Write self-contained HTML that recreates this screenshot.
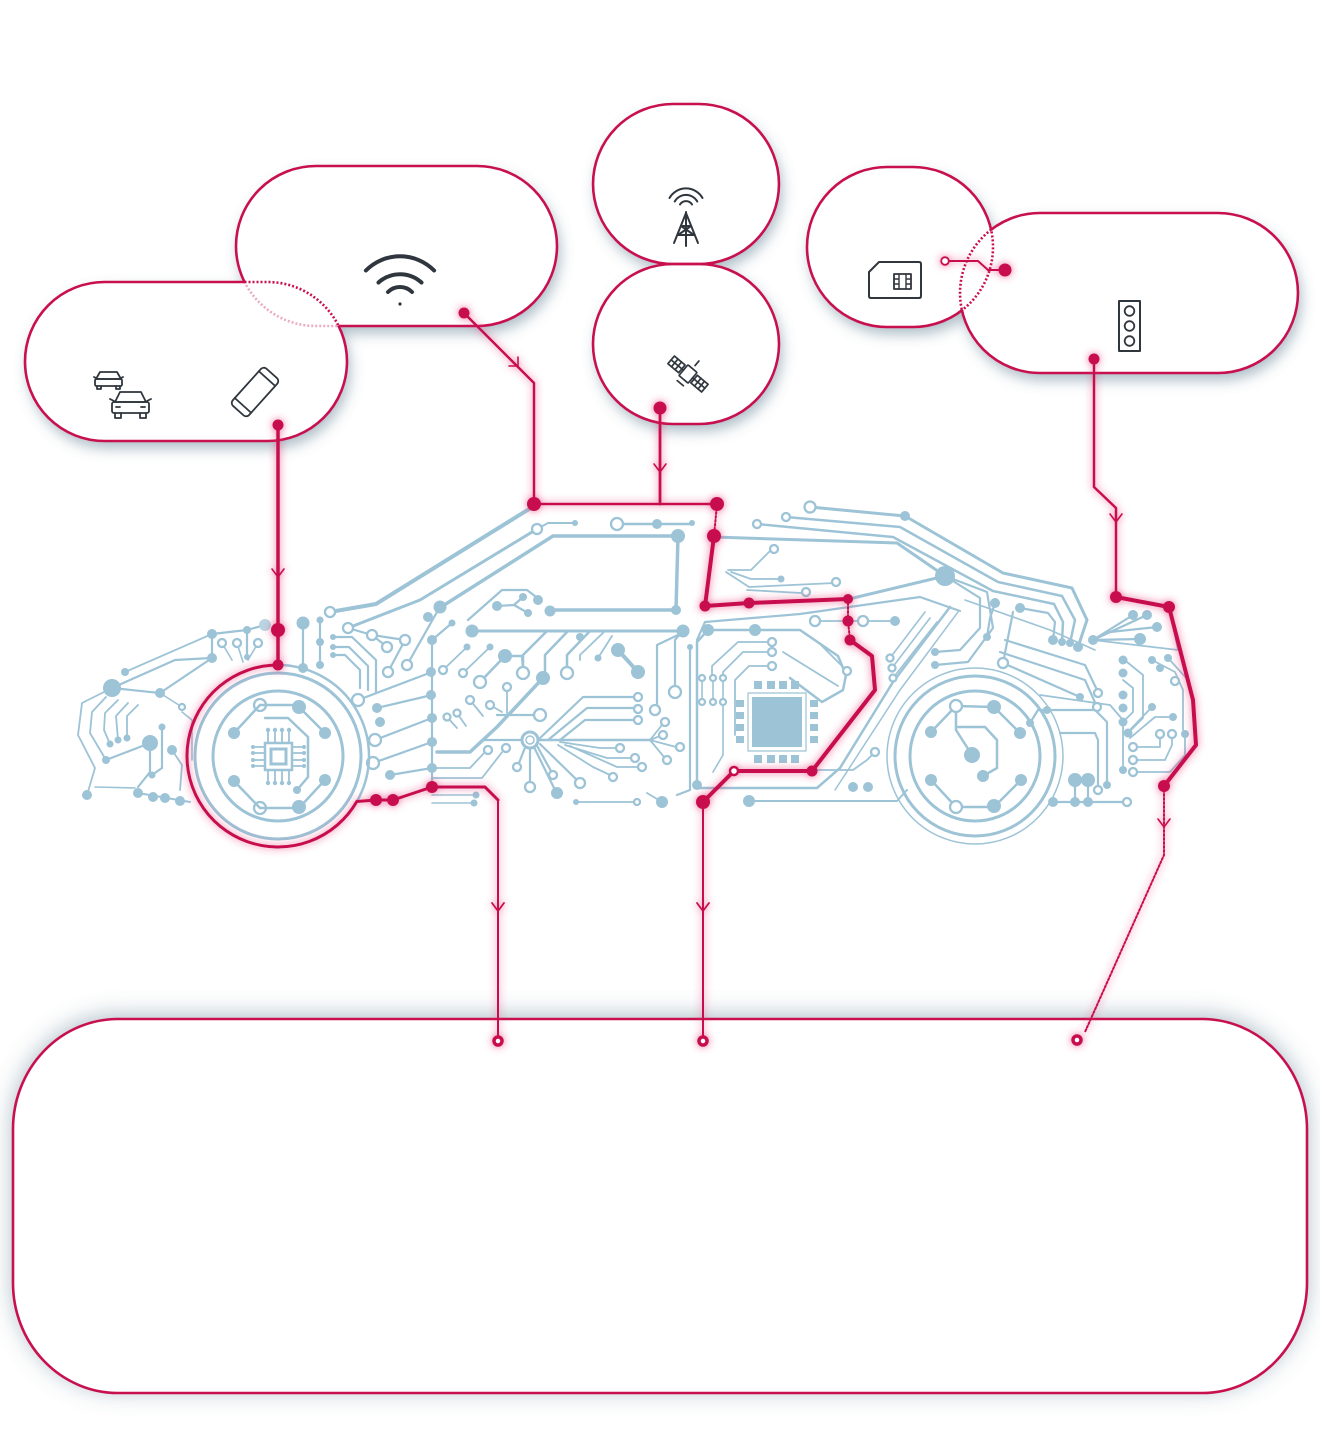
<!DOCTYPE html>
<html><head><meta charset="utf-8">
<style>
html,body{margin:0;padding:0;background:#fff;}
svg{display:block}
.d{fill:#9dc3d6;stroke:none}
.r{fill:#fff;stroke:#9dc3d6;stroke-width:2.3}
.pd{fill:#c8104f;stroke:none}
</style></head>
<body>
<svg width="1320" height="1430" viewBox="0 0 1320 1430" xmlns="http://www.w3.org/2000/svg">
<defs>
<filter id="sh" filterUnits="userSpaceOnUse" x="0" y="0" width="1320" height="1430">
 <feGaussianBlur in="SourceAlpha" stdDeviation="7"/>
 <feOffset dx="3" dy="7" result="o"/>
 <feFlood flood-color="#56778c" flood-opacity="0.5"/>
 <feComposite in2="o" operator="in"/>
 <feMerge><feMergeNode/><feMergeNode in="SourceGraphic"/></feMerge>
</filter>
<filter id="sh2" filterUnits="userSpaceOnUse" x="0" y="0" width="1320" height="1430">
 <feGaussianBlur in="SourceAlpha" stdDeviation="12"/>
 <feOffset dx="0" dy="-3" result="o"/>
 <feFlood flood-color="#56778c" flood-opacity="0.5"/>
 <feComposite in2="o" operator="in"/>
 <feMerge><feMergeNode/><feMergeNode in="SourceGraphic"/></feMerge>
</filter>
<filter id="glow" filterUnits="userSpaceOnUse" x="0" y="0" width="1320" height="1430">
 <feGaussianBlur in="SourceAlpha" stdDeviation="4" result="b"/>
 <feFlood flood-color="#e8336f" flood-opacity="0.75"/>
 <feComposite in2="b" operator="in" result="g"/>
 <feMerge><feMergeNode in="g"/><feMergeNode in="SourceGraphic"/></feMerge>
</filter>
<clipPath id="outL"><path clip-rule="evenodd" d="M0,0 H1320 V1430 H0 Z M104.5,282 H267.5 A79.5,79.5 0 0 1 267.5,441 H104.5 A79.5,79.5 0 0 1 104.5,282 Z"/></clipPath>
<clipPath id="inL"><path d="M104.5,282 H267.5 A79.5,79.5 0 0 1 267.5,441 H104.5 A79.5,79.5 0 0 1 104.5,282 Z"/></clipPath>
<clipPath id="outW"><path clip-rule="evenodd" d="M0,0 H1320 V1430 H0 Z M316,166 H477 A80,80 0 0 1 477,326 H316 A80,80 0 0 1 316,166 Z"/></clipPath>
<clipPath id="inW"><path d="M316,166 H477 A80,80 0 0 1 477,326 H316 A80,80 0 0 1 316,166 Z"/></clipPath>
<clipPath id="outS"><path clip-rule="evenodd" d="M0,0 H1320 V1430 H0 Z M887,167 H913 A80,80 0 0 1 913,327 H887 A80,80 0 0 1 887,167 Z"/></clipPath>
<clipPath id="inS"><path d="M887,167 H913 A80,80 0 0 1 913,327 H887 A80,80 0 0 1 887,167 Z"/></clipPath>
<clipPath id="outT"><path clip-rule="evenodd" d="M0,0 H1320 V1430 H0 Z M1040,213 H1218 A80,80 0 0 1 1218,373 H1040 A80,80 0 0 1 1040,213 Z"/></clipPath>
<clipPath id="inT"><path d="M1040,213 H1218 A80,80 0 0 1 1218,373 H1040 A80,80 0 0 1 1040,213 Z"/></clipPath>
</defs>

<!-- bottom box -->
<rect x="13" y="1019" width="1294" height="374" rx="105" ry="110" fill="#fff" filter="url(#sh2)"/>
<rect x="13" y="1019" width="1294" height="374" rx="105" ry="110" fill="none" stroke="#c8104f" stroke-width="2.6"/>

<!-- pill fills with shadows -->
<g filter="url(#sh)" fill="#fff">
 <path d="M316,166 H477 A80,80 0 0 1 477,326 H316 A80,80 0 0 1 316,166 Z"/>
 <path d="M104.5,282 H267.5 A79.5,79.5 0 0 1 267.5,441 H104.5 A79.5,79.5 0 0 1 104.5,282 Z"/>
</g>
<g filter="url(#sh)" fill="#fff">
 <path d="M673,104 H699 A80,80 0 0 1 699,264 H673 A80,80 0 0 1 673,104 Z"/>
 <path d="M673,264 H699 A80,80 0 0 1 699,424 H673 A80,80 0 0 1 673,264 Z"/>
</g>
<g filter="url(#sh)" fill="#fff">
 <path d="M887,167 H913 A80,80 0 0 1 913,327 H887 A80,80 0 0 1 887,167 Z"/>
 <path d="M1040,213 H1218 A80,80 0 0 1 1218,373 H1040 A80,80 0 0 1 1040,213 Z"/>
</g>

<!-- pill strokes -->
<g fill="none" stroke="#c8104f" stroke-width="2.6">
 <path clip-path="url(#outL)" d="M316,166 H477 A80,80 0 0 1 477,326 H316 A80,80 0 0 1 316,166 Z"/>
 <path clip-path="url(#outW)" d="M104.5,282 H267.5 A79.5,79.5 0 0 1 267.5,441 H104.5 A79.5,79.5 0 0 1 104.5,282 Z"/>
 <path clip-path="url(#inW)" stroke-dasharray="2 2" d="M104.5,282 H267.5 A79.5,79.5 0 0 1 267.5,441 H104.5 A79.5,79.5 0 0 1 104.5,282 Z"/>
 <path clip-path="url(#inL)" stroke-dasharray="2 2" opacity="0.35" d="M316,166 H477 A80,80 0 0 1 477,326 H316 A80,80 0 0 1 316,166 Z"/>
 <path d="M673,104 H699 A80,80 0 0 1 699,264 H673 A80,80 0 0 1 673,104 Z"/>
 <path d="M673,264 H699 A80,80 0 0 1 699,424 H673 A80,80 0 0 1 673,264 Z"/>
 <path clip-path="url(#outT)" d="M887,167 H913 A80,80 0 0 1 913,327 H887 A80,80 0 0 1 887,167 Z"/>
 <path clip-path="url(#outS)" d="M1040,213 H1218 A80,80 0 0 1 1218,373 H1040 A80,80 0 0 1 1040,213 Z"/>
 <path clip-path="url(#inT)" stroke-dasharray="2 2" d="M887,167 H913 A80,80 0 0 1 913,327 H887 A80,80 0 0 1 887,167 Z"/>
 <path clip-path="url(#inS)" stroke-dasharray="2 2" d="M1040,213 H1218 A80,80 0 0 1 1218,373 H1040 A80,80 0 0 1 1040,213 Z"/>
</g>

<!-- icons -->
<g fill="none" stroke="#2f363d" stroke-width="1.8" stroke-linecap="round" stroke-linejoin="round">
 <!-- small car -->
 <path d="M100,372 H117 L121,379 H96 Z"/>
 <rect x="95" y="379" width="27" height="7" rx="1.5"/>
 <path d="M97,386 V389 H101 V386 M116,386 V389 H120 V386"/>
 <path d="M94,377 L96,378 M123,377 L121,378"/>
 <!-- big car -->
 <path d="M120,392 H141 L146,402 H115 Z"/>
 <rect x="112" y="402" width="37" height="11" rx="2"/>
 <path d="M115,413 V418 H121 V413 M140,413 V418 H146 V413"/>
 <path d="M110,399 L114,401 M151,399 L147,401"/>
 <path d="M116,407 H120 M141,407 H145"/>
 <!-- phone -->
 <g transform="rotate(42 255 392)">
  <rect x="244" y="367" width="22" height="50" rx="4"/>
  <path d="M244,374 H266 M244,410 H266"/>
 </g>
 <!-- wifi -->
 <path stroke-width="4" d="M365.9,270.5 A48,48 0 0 1 434.1,270.5"/>
 <path stroke-width="4" d="M378.5,282.5 A32,32 0 0 1 421.5,282.5"/>
 <path stroke-width="4" d="M388,292 A17,17 0 0 1 412,292"/>
 <circle cx="400" cy="304" r="1.6" fill="#2f363d" stroke="none"/>
 <!-- tower -->
 <path stroke-width="2" d="M669.5,198 A19,19 0 0 1 702.5,198 M674.7,201.5 A13,13 0 0 1 697.3,201.5 M680,204.5 A7,7 0 0 1 692,204.5"/>
 <path stroke-width="2" d="M686,212 V246 M686,213 L674,243 M686,213 L698,243 M681,226 H691 M678,235 L694,235 M681,226 L694,235 M691,226 L678,235"/>
 <!-- satellite -->
 <g transform="rotate(40 688 374)" stroke-width="1.7">
  <rect x="682" y="367" width="12" height="14" rx="1"/>
  <rect x="666" y="369" width="14" height="10"/>
  <path d="M670.7,369 V379 M675.3,369 V379 M666,374 H680"/>
  <rect x="696" y="369" width="14" height="10"/>
  <path d="M700.7,369 V379 M705.3,369 V379 M696,374 H710"/>
  <path d="M680,374 H682 M694,374 H696"/>
  <path d="M684,386 H692 M688,357 V363"/>
 </g>
 <!-- sim -->
 <path stroke-width="2" d="M879,262 H919 Q921,262 921,264 V296 Q921,298 919,298 H871 Q869,298 869,296 V272 Z"/>
 <rect x="894" y="274" width="17" height="15" stroke-width="1.8"/>
 <path stroke-width="1.4" d="M899,274 V289 M906,274 V289 M894,279 H899 M894,284 H899 M906,279 H911 M906,284 H911"/>
 <!-- traffic light -->
 <rect x="1119" y="301" width="21" height="50" stroke-width="2"/>
 <circle cx="1129.5" cy="311" r="4.8"/>
 <circle cx="1129.5" cy="326" r="4.8"/>
 <circle cx="1129.5" cy="341" r="4.8"/>
</g>

<!-- blue circuits -->
<g fill="none" stroke="#9dc3d6" stroke-linecap="round" stroke-linejoin="round" stroke-width="2.2">
 <!-- roof/outline -->
 <path stroke-width="4" d="M330,612 L376,604 L534,506"/>
 <path stroke-width="3" d="M348,628 L420,600 L537,529"/>
 <path stroke-width="2" d="M537,529 L548,523 H575"/>
 <path stroke-width="3.5" d="M441,607 L553,536 H678 L676,610 H550"/>
 <path stroke-width="2.5" d="M617,524 H692"/>
 <path stroke-width="3" d="M472,631 H683"/>
 <path stroke-width="3" d="M810,507 L905,516 L1003,573 L1072,588 L1087,620 L1078,647"/>
 <path stroke-width="2.5" d="M786,517 L900,527 L998,582 L1062,596 L1075,620 L1070,643"/>
 <path stroke-width="2.5" d="M757,524 L893,537 L993,591 L1054,604 L1063,622 L1062,642"/>
 <path stroke-width="2.2" d="M1020,608 L1048,613 L1055,622 L1053,640"/>
 <path stroke-width="3" d="M714,537 L897,543 L945,576"/>
 <path stroke-width="3" d="M849,599 L945,576"/>
 <path d="M945,576 L980,598 L980,628 L960,650 L935,652"/>
 <path d="M945,576 L987,592 L993,628 L968,662 L935,665"/>
 <path d="M995,603 L990,618 L987,637"/>
 <path d="M1013,612 L1003,663"/>
 <path d="M1003,663 L1080,697"/>
 <path d="M1005,640 L1085,665 L1097,690 L1098,693"/>
 <path d="M1000,652 L1085,680 L1097,707"/>
 <path stroke-width="1.6" d="M965,600 L1050,630 L1095,650"/>
 <!-- front -->
 <path stroke-width="1.8" d="M112,688 L82,703 L78,735 L95,768 L87,795"/>
 <path stroke-width="1.8" d="M106,697 L92,712 L90,733 L106,760"/>
 <path stroke-width="1.8" d="M118,700 L105,713 L104,730 L110,744"/>
 <path stroke-width="1.8" d="M128,703 L116,716 L118,740"/>
 <path stroke-width="1.8" d="M138,705 L127,716 L127,738"/>
 <path d="M112,688 L160,693"/>
 <path d="M112,688 L175,660 L212,658"/>
 <path stroke-width="1.8" d="M125,672 L212,634"/>
 <path d="M212,634 V658"/>
 <path d="M212,634 L247,630 L265,625"/>
 <path d="M247,630 V657"/>
 <path d="M160,693 L212,658"/>
 <path stroke-width="1.6" d="M160,693 L182,707"/>
 <path stroke-width="1.6" d="M222,643 L232,660 M237,643 L243,662 M258,643 L248,660"/>
 <path d="M150,743 L106,760"/>
 <path d="M150,743 L150,772 L138,787"/>
 <path d="M162,727 V768 L152,775"/>
 <path stroke-width="1.8" d="M172,750 L182,765 L180,790"/>
 <path stroke-width="1.6" d="M95,787 L135,788"/>
 <path stroke-width="2" d="M138,793 L190,802"/>
 <path stroke-width="1.6" d="M182,712 L192,720 L192,760"/>
 <!-- between wheel and door -->
 <path d="M303,623 V668"/>
 <path d="M320,620 V665"/>
 <path d="M333,637 H352 L376,660 V692"/>
 <path d="M333,647 H349 L368,666 V690"/>
 <path d="M333,655 H345 L360,670 V688"/>
 <path d="M348,628 L372,635 L405,640"/>
 <path d="M372,635 L387,647"/>
 <path d="M388,672 L405,640"/>
 <path d="M407,665 L437,612"/>
 <path d="M358,700 L432,672"/>
 <path d="M377,708 L432,695"/>
 <path d="M375,740 L432,718"/>
 <path d="M373,763 L432,742"/>
 <path d="M390,775 L432,768"/>
 <path d="M432,640 V780"/>
 <path d="M432,640 L452,623"/>
 <path stroke-width="1.6" d="M432,795 H476 M432,803 H474"/>
 <!-- middle -->
 <path d="M468,620 L502,590 H527 L540,600"/>
 <path d="M497,606 L514,605 L523,597 M514,605 L528,613"/>
 <path stroke-width="1.8" d="M443,670 L467,647 M463,673 L490,647"/>
 <path stroke-width="2.5" d="M480,682 L505,656 H522 L523,667"/>
 <path stroke-width="2.5" d="M547,631 L523,655 V667"/>
 <path stroke-width="2.5" d="M568,631 L545,655 V678"/>
 <path stroke-width="2.5" d="M590,631 L567,655 V667"/>
 <path stroke-width="1.8" d="M605,631 L580,655 V660"/>
 <path stroke-width="4" d="M618,650 L638,672"/>
 <path stroke-width="1.8" d="M612,636 L598,658"/>
 <path d="M680,634 L675,640 V686"/>
 <path d="M680,634 L657,645 V704"/>
 <path d="M690,647 V790 L677,795"/>
 <path stroke-width="3.5" d="M437,752 H470 L497,727 L543,678"/>
 <path d="M483,740 H522"/>
 <path d="M497,715 H534"/>
 <path stroke-width="1.8" d="M507,691 V713 M490,705 L502,712 M470,700 L483,716 M447,717 L457,728 M457,713 L466,726"/>
 <path stroke-width="1.8" d="M432,768 H470 L485,752 M432,778 H482 L503,751"/>
 <path d="M538,740 L583,697 H634"/>
 <path d="M548,740 L587,708 H634"/>
 <path d="M560,740 L585,720 H634"/>
 <path stroke-width="2.5" d="M538,740 H650"/>
 <path stroke-width="1.8" d="M650,740 L662,725 M650,740 L660,736 M650,740 L676,747 M650,740 L664,757"/>
 <path d="M530,748 V782 M533,745 L555,790 M536,744 L551,771 M540,744 L577,780 M526,745 L519,763"/>
 <path stroke-width="1.8" d="M560,742 L600,748 H616 M565,745 L607,758 H631 M570,746 L617,767 H638 M558,745 L593,767 L610,775"/>
 <path stroke-width="1.8" d="M576,802 H634 M647,793 L662,802"/>
 <!-- right of door -->
 <path d="M697,640 L705,622 L800,614 L920,597 L960,611"/>
 <path stroke-width="2.5" d="M708,630 L697,642 V785"/>
 <path stroke-width="2.5" d="M708,630 H800 L838,656 L846,675 L843,690 L822,702 L790,678"/>
 <path stroke-width="1.8" d="M783,652 L838,686 M820,644 L847,671"/>
 <path stroke-width="1.8" d="M815,621 H895"/>
 <path stroke-width="1.8" d="M772,642 H738 L712,666 V678 M772,652 H743 L723,672 V678 M772,666 H749 L735,680 V735"/>
 <path stroke-width="1.6" d="M702,678 V702 M713,678 V702 M723,678 V702 M723,702 V755 L713,772"/>
 <path stroke-width="2.5" d="M697,788 H817 L840,768 L893,682 L950,607"/>
 <path stroke-width="1.5" d="M835,790 L900,690 L958,612"/>
 <path stroke-width="1.8" d="M818,770 H853 L867,760 L875,752"/>
 <path stroke-width="2" d="M749,801 H897 L907,790"/>
 <path stroke-width="1.6" d="M890,658 L925,612 M892,668 L930,618 M893,678 L937,622"/>
 <path stroke-width="1.8" d="M772,549 L751,570 H728 M781,579 H751 L731,572 M835,583 L749,587 L726,572 M801,593 L747,590"/>
 <!-- chip right -->
 <rect x="752" y="697" width="50" height="50" fill="#9dc3d6" stroke="none"/>
 <rect x="748" y="693" width="58" height="58" stroke-width="1.2"/>
 <!-- right wheel -->
 <circle cx="975" cy="756" r="65" stroke-width="3"/>
 <circle cx="975" cy="756" r="80" stroke-width="3"/>
 <circle cx="975" cy="756" r="88" stroke-width="1.5"/>
 <path stroke-width="2.5" d="M956,706 L994,707 M956,706 L931,732 M994,707 L1020,733 M956,706 V730 L972,755 M956,727 H985 L997,740 V768 L983,776 M931,780 L956,807 H994 L1021,780"/>
 <!-- rear -->
 <path d="M1093,640 L1133,615 M1093,640 L1147,615 M1093,640 L1110,632 L1157,627 M1093,640 L1140,639"/>
 <path stroke-width="1.8" d="M1093,640 L1178,650 L1170,612"/>
 <path stroke-width="1.8" d="M1123,680 L1133,688 V712 L1123,722 M1127,662 L1143,675 V718 L1128,733"/>
 <path stroke-width="1.8" d="M1152,660 L1175,672 L1183,690 V730 M1168,658 L1188,680"/>
 <path stroke-width="1.8" d="M1127,733 L1152,707 M1130,738 L1155,717 H1173"/>
 <path stroke-width="1.8" d="M1133,747 H1160 V734 M1133,760 H1165 L1172,745 V734 M1133,772 H1170 L1185,755 V734"/>
 <path d="M1030,723 L1038,710 H1095 L1107,722 V785"/>
 <path d="M1060,733 H1095 L1098,740 V790"/>
 <path stroke-width="1.8" d="M1040,695 L1110,705 L1123,720 V770"/>
 <path d="M1053,802 H1123 M1075,780 V802 M1088,780 V802"/>
</g>
<g>
 <!-- blue dots -->
 <g class="d">
  <circle cx="112" cy="688" r="9"/><circle cx="125" cy="672" r="4"/><circle cx="212" cy="634" r="5"/><circle cx="247" cy="630" r="4"/>
  <circle cx="212" cy="658" r="5"/><circle cx="160" cy="693" r="5"/><circle cx="150" cy="743" r="8"/><circle cx="110" cy="744" r="3.5"/>
  <circle cx="118" cy="740" r="3.5"/><circle cx="127" cy="738" r="3.5"/><circle cx="162" cy="727" r="3.5"/><circle cx="172" cy="750" r="5"/>
  <circle cx="87" cy="795" r="5"/><circle cx="138" cy="793" r="5"/><circle cx="153" cy="797" r="5"/><circle cx="165" cy="798" r="5"/>
  <circle cx="180" cy="801" r="5"/><circle cx="152" cy="775" r="3.5"/><circle cx="106" cy="760" r="4"/><circle cx="247" cy="657" r="3"/>
  <circle cx="303" cy="623" r="6.5"/><circle cx="303" cy="668" r="5"/><circle cx="320" cy="620" r="3.5"/><circle cx="320" cy="642" r="4"/>
  <circle cx="320" cy="665" r="4"/><circle cx="333" cy="637" r="3"/><circle cx="333" cy="647" r="3"/><circle cx="333" cy="655" r="3"/>
  <circle cx="377" cy="708" r="5"/><circle cx="380" cy="722" r="5"/><circle cx="390" cy="775" r="5"/>
  <circle cx="432" cy="640" r="5"/><circle cx="431" cy="672" r="5"/><circle cx="431" cy="695" r="5"/><circle cx="432" cy="718" r="5"/>
  <circle cx="432" cy="742" r="5"/><circle cx="432" cy="768" r="5"/><circle cx="428" cy="617" r="5"/><circle cx="440" cy="607" r="6.5"/>
  <circle cx="452" cy="623" r="3.5"/><circle cx="476" cy="795" r="3.5"/><circle cx="474" cy="803" r="3.5"/>
  <circle cx="472" cy="631" r="6.5"/><circle cx="683" cy="631" r="6.5"/><circle cx="678" cy="536" r="7"/><circle cx="676" cy="610" r="5"/>
  <circle cx="550" cy="611" r="5.5"/><circle cx="657" cy="524" r="5"/><circle cx="692" cy="523" r="3"/><circle cx="575" cy="523" r="3"/>
  <circle cx="497" cy="606" r="5"/><circle cx="523" cy="597" r="4"/><circle cx="538" cy="600" r="5"/><circle cx="528" cy="613" r="4"/>
  <circle cx="467" cy="647" r="3.5"/><circle cx="490" cy="647" r="3.5"/><circle cx="505" cy="656" r="7"/><circle cx="543" cy="678" r="7"/>
  <circle cx="618" cy="650" r="7"/><circle cx="638" cy="672" r="7"/><circle cx="580" cy="637" r="4"/><circle cx="557" cy="793" r="6"/>
  <circle cx="576" cy="802" r="3"/><circle cx="662" cy="802" r="6"/><circle cx="690" cy="647" r="3"/><circle cx="598" cy="658" r="3.5"/>
  <circle cx="708" cy="630" r="6"/><circle cx="755" cy="630" r="6"/><circle cx="895" cy="621" r="5"/><circle cx="945" cy="576" r="10"/>
  <circle cx="697" cy="785" r="5"/><circle cx="749" cy="801" r="6"/><circle cx="853" cy="787" r="5"/><circle cx="868" cy="787" r="5"/>
  <circle cx="905" cy="516" r="5"/><circle cx="995" cy="603" r="5"/><circle cx="1020" cy="608" r="5"/><circle cx="781" cy="579" r="3.5"/>
  <circle cx="1053" cy="640" r="5"/><circle cx="1062" cy="642" r="4"/><circle cx="1070" cy="643" r="4"/><circle cx="1078" cy="647" r="5"/>
  <circle cx="1093" cy="640" r="5"/><circle cx="1133" cy="615" r="5"/><circle cx="1147" cy="615" r="5"/><circle cx="1157" cy="627" r="5"/>
  <circle cx="1140" cy="639" r="6"/><circle cx="1123" cy="660" r="4.5"/><circle cx="1123" cy="673" r="4.5"/><circle cx="1123" cy="695" r="4.5"/>
  <circle cx="1123" cy="708" r="4.5"/><circle cx="1123" cy="722" r="4.5"/><circle cx="1128" cy="733" r="4.5"/><circle cx="1152" cy="660" r="4"/>
  <circle cx="1168" cy="658" r="4"/><circle cx="1160" cy="668" r="4"/><circle cx="1152" cy="707" r="4"/><circle cx="1173" cy="717" r="4"/>
  <circle cx="1185" cy="734" r="4"/><circle cx="1107" cy="785" r="4"/><circle cx="1075" cy="780" r="7"/><circle cx="1088" cy="780" r="7"/>
  <circle cx="1053" cy="802" r="5"/><circle cx="1075" cy="802" r="5"/><circle cx="1088" cy="802" r="5"/><circle cx="1080" cy="697" r="4"/>
  <circle cx="1047" cy="710" r="4"/><circle cx="1123" cy="770" r="4"/><circle cx="987" cy="637" r="4"/><circle cx="935" cy="652" r="4"/>
  <circle cx="935" cy="665" r="4"/><circle cx="1030" cy="723" r="4"/>
  <circle cx="994" cy="707" r="7"/><circle cx="931" cy="732" r="6"/><circle cx="1020" cy="733" r="6"/><circle cx="972" cy="755" r="8"/>
  <circle cx="983" cy="776" r="6"/><circle cx="931" cy="780" r="6"/><circle cx="1021" cy="780" r="6"/><circle cx="994" cy="806" r="7"/>
  <circle cx="299" cy="707" r="7"/><circle cx="234" cy="733" r="6"/><circle cx="325" cy="733" r="6"/><circle cx="234" cy="781" r="6"/>
  <circle cx="325" cy="780" r="6"/><circle cx="299" cy="807" r="7"/><circle cx="297" cy="790" r="4"/>
  <!-- chip pins right -->
  <rect x="754" y="681" width="8" height="8"/><rect x="767" y="681" width="8" height="8"/><rect x="779" y="681" width="8" height="8"/><rect x="791" y="681" width="8" height="8"/>
  <rect x="754" y="755" width="8" height="8"/><rect x="767" y="755" width="8" height="8"/><rect x="779" y="755" width="8" height="8"/><rect x="791" y="755" width="8" height="8"/>
  <rect x="736" y="700" width="8" height="7"/><rect x="736" y="712" width="8" height="7"/><rect x="736" y="724" width="8" height="7"/><rect x="736" y="736" width="8" height="7"/>
  <rect x="810" y="700" width="8" height="7"/><rect x="810" y="712" width="8" height="7"/><rect x="810" y="724" width="8" height="7"/><rect x="810" y="736" width="8" height="7"/>
 </g>
 <circle cx="265" cy="625" r="6" fill="#b9d5e3"/>
 <!-- blue rings -->
 <g class="r">
  <circle cx="330" cy="612" r="5"/><circle cx="348" cy="628" r="5"/><circle cx="537" cy="529" r="5"/><circle cx="617" cy="524" r="6"/>
  <circle cx="810" cy="507" r="5.5"/><circle cx="786" cy="517" r="4"/><circle cx="757" cy="524" r="4"/><circle cx="372" cy="635" r="5"/>
  <circle cx="387" cy="647" r="5"/><circle cx="405" cy="640" r="5"/><circle cx="388" cy="672" r="5"/><circle cx="407" cy="665" r="5"/>
  <circle cx="358" cy="700" r="6"/><circle cx="375" cy="740" r="6"/><circle cx="373" cy="763" r="6"/><circle cx="222" cy="643" r="4"/>
  <circle cx="237" cy="643" r="4"/><circle cx="258" cy="643" r="4"/><circle cx="182" cy="707" r="3"/><circle cx="443" cy="670" r="4"/>
  <circle cx="463" cy="673" r="4"/><circle cx="480" cy="682" r="6"/><circle cx="523" cy="673" r="6"/><circle cx="567" cy="673" r="6"/>
  <circle cx="540" cy="715" r="6"/><circle cx="507" cy="687" r="4"/><circle cx="490" cy="705" r="4"/><circle cx="470" cy="700" r="4"/>
  <circle cx="447" cy="717" r="3.5"/><circle cx="457" cy="713" r="3.5"/><circle cx="488" cy="750" r="4"/><circle cx="506" cy="748" r="4"/>
  <circle cx="638" cy="697" r="4"/><circle cx="638" cy="709" r="4"/><circle cx="638" cy="720" r="4"/><circle cx="665" cy="722" r="4"/>
  <circle cx="663" cy="735" r="4"/><circle cx="680" cy="747" r="4"/><circle cx="667" cy="760" r="4"/><circle cx="675" cy="692" r="6"/>
  <circle cx="655" cy="710" r="5"/><circle cx="530" cy="787" r="5"/><circle cx="553" cy="775" r="4"/><circle cx="580" cy="783" r="5"/>
  <circle cx="517" cy="767" r="4"/><circle cx="620" cy="748" r="4"/><circle cx="635" cy="758" r="4"/><circle cx="642" cy="767" r="4"/>
  <circle cx="613" cy="777" r="4"/><circle cx="637" cy="802" r="3"/><circle cx="815" cy="621" r="5"/><circle cx="863" cy="621" r="5"/>
  <circle cx="772" cy="642" r="4"/><circle cx="772" cy="652" r="4"/><circle cx="772" cy="666" r="4"/><circle cx="702" cy="678" r="3"/>
  <circle cx="713" cy="678" r="3"/><circle cx="723" cy="678" r="3"/><circle cx="702" cy="702" r="3"/><circle cx="713" cy="702" r="3"/>
  <circle cx="723" cy="702" r="3"/><circle cx="847" cy="671" r="4"/><circle cx="890" cy="658" r="3.5"/><circle cx="892" cy="668" r="3.5"/>
  <circle cx="893" cy="678" r="3.5"/><circle cx="875" cy="752" r="4"/><circle cx="1003" cy="663" r="5"/><circle cx="1098" cy="790" r="4"/>
  <circle cx="1127" cy="802" r="4"/><circle cx="1133" cy="747" r="4"/><circle cx="1133" cy="760" r="4"/><circle cx="1133" cy="772" r="4"/>
  <circle cx="1160" cy="734" r="4"/><circle cx="1172" cy="734" r="4"/><circle cx="1097" cy="707" r="4"/><circle cx="1098" cy="693" r="4"/>
  <circle cx="774" cy="549" r="4"/><circle cx="836" cy="582" r="4"/><circle cx="806" cy="592" r="4"/><circle cx="1175" cy="681" r="4"/>
  <circle cx="956" cy="706" r="6"/><circle cx="956" cy="807" r="6"/><circle cx="260" cy="705" r="6"/><circle cx="260" cy="808" r="6"/>
  <circle cx="530" cy="740" r="8" stroke-width="3"/>
 </g>
 <circle cx="530" cy="740" r="4" fill="none" stroke="#9dc3d6" stroke-width="1.5"/>
 <!-- left wheel -->
 <g fill="none" stroke="#9dc3d6" stroke-linecap="round">
  <path stroke-width="2.5" d="M278,665 A91,91 0 0 1 356.8,801.5"/>
  <circle cx="278" cy="756" r="83" stroke-width="3"/>
  <circle cx="278" cy="756" r="65" stroke-width="3"/>
  <path stroke-width="2.5" d="M260,705 H299 M260,705 L234,733 M299,707 L325,733 M234,781 L260,808 H299 L325,780 M265,718 H288 L308,737 V777 L297,790"/>
  <rect x="265" y="743" width="27" height="27" stroke-width="2.5"/>
  <rect x="271" y="749" width="15" height="15" stroke-width="3"/>
  <path stroke-width="1.8" d="M268,730 V743 M275,730 V743 M282,730 V743 M289,730 V743 M268,770 V783 M275,770 V783 M282,770 V783 M289,770 V783 M253,747 H265 M253,753 H265 M253,760 H265 M253,766 H265 M292,747 H304 M292,753 H304 M292,760 H304 M292,766 H304"/>
 </g>
 <g class="d">
  <circle cx="268" cy="730" r="2.2"/><circle cx="275" cy="730" r="2.2"/><circle cx="282" cy="730" r="2.2"/><circle cx="289" cy="730" r="2.2"/>
  <circle cx="268" cy="783" r="2.2"/><circle cx="275" cy="783" r="2.2"/><circle cx="282" cy="783" r="2.2"/><circle cx="289" cy="783" r="2.2"/>
  <circle cx="253" cy="747" r="2"/><circle cx="253" cy="753" r="2"/><circle cx="253" cy="760" r="2"/><circle cx="253" cy="766" r="2"/>
  <circle cx="304" cy="747" r="2"/><circle cx="304" cy="753" r="2"/><circle cx="304" cy="760" r="2"/><circle cx="304" cy="766" r="2"/>
 </g>
</g>

<!-- pink connectors -->
<g filter="url(#glow)">
 <g fill="none" stroke="#c8104f" stroke-linecap="round" stroke-linejoin="round">
  <path stroke-width="3.5" d="M278,425 V665"/>
  <path stroke-width="1.6" d="M272,569 L278,577 L284,569"/>
  <path stroke-width="3" d="M278,665 A91,91 0 1 0 356.8,801.5 L376,800 L393,800 L432,787 L485,787 L498,800"/>
  <path stroke-width="2" d="M498,800 V1037"/>
  <path stroke-width="1.8" d="M492,903 L498,911 L504,903"/>
  <path stroke-width="2.5" d="M464,313 L534,383 V504 H717"/>
  <path stroke-width="1.6" d="M509,366 H518 V357"/>
  <path stroke-width="2.8" d="M660,408 V504"/>
  <path stroke-width="1.6" d="M654,464 L660,472 L666,464"/>
  <path stroke-width="2" stroke-dasharray="2 2" d="M717,504 L714,536"/>
  <path stroke-width="4" d="M714,536 L705,606 L749,603 L848,599"/>
  <path stroke-width="2" stroke-dasharray="2 2" d="M848,599 V621 L850,640"/>
  <path stroke-width="4" d="M850,640 L872,656 L875,690 L812,771 H734 L703,802"/>
  <path stroke-width="2" d="M703,802 V1037"/>
  <path stroke-width="1.8" d="M697,903 L703,911 L709,903"/>
  <path stroke-width="2.5" d="M1094,359 V487 L1116,508 V597"/>
  <path stroke-width="1.6" d="M1110,514 L1116,522 L1122,514"/>
  <path stroke-width="4" d="M1116,597 L1169,607 L1193,700 L1196,745 L1164,786"/>
  <path stroke-width="2" stroke-dasharray="2 2" d="M1164,786 V855 L1085,1032"/>
  <path stroke-width="1.6" d="M1158,819 L1164,827 L1170,819"/>
  <path stroke-width="2" d="M949,261 H978 L988,270 H1005"/>
 </g>
 <g class="pd">
  <circle cx="278" cy="425" r="5.5"/><circle cx="278" cy="630" r="7"/><circle cx="278" cy="665" r="5.5"/>
  <circle cx="376" cy="800" r="6"/><circle cx="393" cy="800" r="6"/><circle cx="432" cy="787" r="6"/>
  <circle cx="464" cy="313" r="5.5"/><circle cx="534" cy="504" r="7"/><circle cx="717" cy="504" r="7"/>
  <circle cx="660" cy="408" r="6.5"/><circle cx="714" cy="536" r="7"/><circle cx="705" cy="606" r="5.5"/>
  <circle cx="749" cy="603" r="5.5"/><circle cx="848" cy="599" r="5"/><circle cx="848" cy="621" r="5.5"/>
  <circle cx="850" cy="640" r="5.5"/><circle cx="812" cy="771" r="5.5"/><circle cx="703" cy="802" r="7"/>
  <circle cx="1094" cy="359" r="5.5"/><circle cx="1116" cy="597" r="6"/><circle cx="1169" cy="607" r="6"/>
  <circle cx="1164" cy="786" r="6"/><circle cx="1005" cy="270" r="6.5"/>
 </g>
 <g fill="#fff" stroke="#c8104f">
  <circle cx="734" cy="771" r="4" stroke-width="2.5"/>
  <circle cx="945" cy="261" r="3.8" stroke-width="1.8"/>
  <circle cx="498" cy="1041" r="4" stroke-width="3.5"/>
  <circle cx="703" cy="1041" r="4" stroke-width="3.5"/>
  <circle cx="1077" cy="1040" r="4" stroke-width="3.5"/>
 </g>
</g>
</svg>
</body></html>
